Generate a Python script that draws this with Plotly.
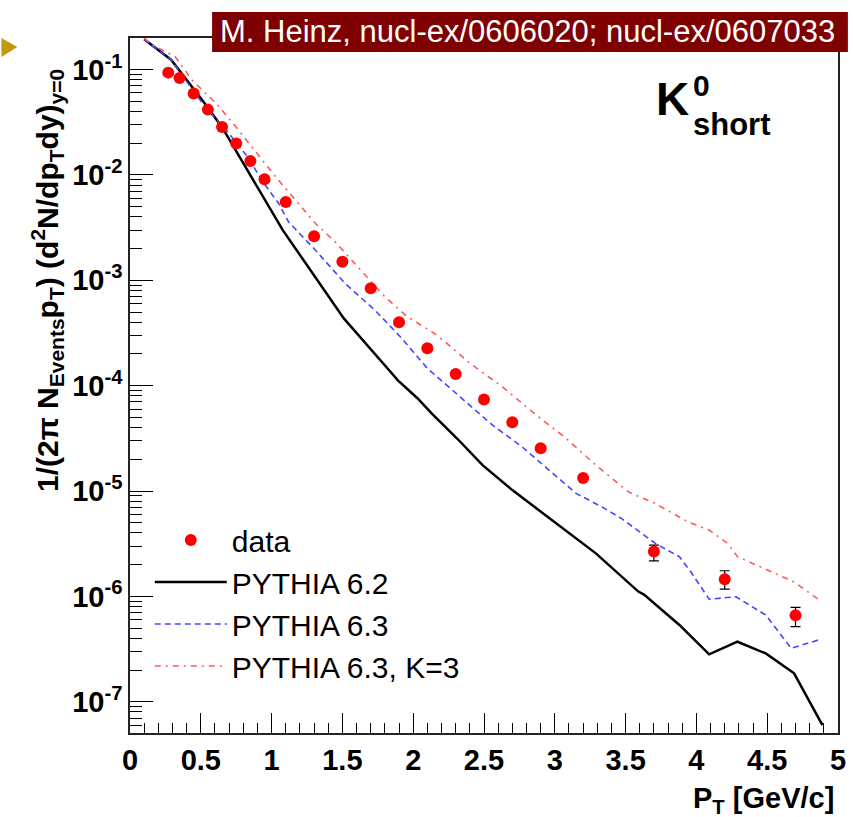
import plotly.graph_objects as go

# Measured K0_short spectrum
data_pt = [0.27, 0.35, 0.45, 0.55, 0.65, 0.75, 0.85, 0.95, 1.1, 1.3, 1.5,
           1.7, 1.9, 2.1, 2.3, 2.5, 2.7, 2.9, 3.2, 3.7, 4.2, 4.7]
data_y = [0.0936, 0.0832, 0.0592, 0.0417, 0.0285, 0.0199, 0.0136, 0.0091,
          0.00554, 0.00262, 0.00150, 8.4e-4, 4.0e-4, 2.26e-4, 1.29e-4,
          7.4e-5, 4.5e-5, 2.54e-5, 1.33e-5, 2.66e-6, 1.45e-6, 6.6e-7]
data_err_plus = [0] * 19 + [0.40e-6, 0.30e-6, 0.127e-6]
data_err_minus = [0] * 19 + [0.49e-6, 0.28e-6, 0.145e-6]

# PYTHIA 6.2
p62_pt = [0.10, 0.29, 0.52, 0.65, 1.08, 1.29, 1.51, 1.83, 1.89, 2.03, 2.13,
          2.31, 2.49, 2.70, 2.98, 3.29, 3.59, 3.63, 3.88, 4.09, 4.29, 4.49,
          4.69, 4.89]
p62_y = [0.194, 0.124, 0.0493, 0.0284, 2.98e-3, 1.16e-3, 4.35e-4, 1.40e-4,
         1.13e-4, 7.6e-5, 5.45e-5, 3.15e-5, 1.76e-5, 1.02e-5, 5.3e-6, 2.56e-6,
         1.11e-6, 1.04e-6, 5.35e-7, 2.82e-7, 3.71e-7, 2.87e-7, 1.86e-7, 6.0e-8]

# PYTHIA 6.3
p63_pt = [0.10, 0.29, 0.47, 0.55, 0.68, 0.84, 0.93, 1.05, 1.12, 1.31, 1.52,
          1.73, 1.91, 2.10, 2.17, 2.36, 2.56, 2.77, 2.96, 3.15, 3.33, 3.47,
          3.71, 3.88, 3.96, 4.09, 4.28, 4.49, 4.67, 4.86]
p63_y = [0.194, 0.1245, 0.0570, 0.0411, 0.02655, 0.01432, 8.9e-3, 5.36e-3,
         3.58e-3, 1.93e-3, 9.3e-4, 5.2e-4, 2.9e-4, 1.46e-4, 1.21e-4, 7.3e-5,
         4.22e-5, 2.62e-5, 1.58e-5, 9.5e-6, 7.1e-6, 5.5e-6, 3.18e-6, 2.38e-6,
         1.71e-6, 9.4e-7, 9.9e-7, 6.65e-7, 3.21e-7, 3.85e-7]

# PYTHIA 6.3 with K=3
p63k_pt = [0.10, 0.15, 0.32, 0.44, 0.61, 0.75, 0.86, 1.03, 1.17, 1.31, 1.45,
           1.66, 1.80, 1.96, 2.15, 2.24, 2.40, 2.63, 2.87, 3.08, 3.29, 3.52,
           3.71, 3.94, 4.09, 4.22, 4.29, 4.45, 4.69, 4.86]
p63k_y = [0.200, 0.174, 0.132, 0.0791, 0.0475, 0.0285, 0.01845, 9.57e-3,
          5.75e-3, 3.46e-3, 2.31e-3, 1.117e-3, 6.97e-4, 4.5e-4, 3.13e-4,
          2.51e-4, 1.63e-4, 9.75e-5, 5.25e-5, 3.16e-5, 1.76e-5, 9.8e-6, 7.6e-6,
          5.1e-6, 4.26e-6, 3.18e-6, 2.38e-6, 1.91e-6, 1.37e-6, 9.4e-7]

x_ticks = [0, 0.5, 1, 1.5, 2, 2.5, 3, 3.5, 4, 4.5, 5]
x_ticktext = ["0", "0.5", "1", "1.5", "2", "2.5", "3", "3.5", "4", "4.5", "5"]
y_exponents = [-7, -6, -5, -4, -3, -2, -1]

y_ticks = [10.0 ** e for e in y_exponents]
y_ticktext = ["10<sup>%d</sup>" % e for e in y_exponents]
y_minor = [m * 10.0 ** e for e in range(-8, 0) for m in range(2, 10)]

W, H = 853, 817
L, R, T, B = 130, 7, 38, 84
pw, ph = W - L - R, H - T - B


def px(xp):
    return (xp - L) / pw


def py(yp):
    return (H - B - yp) / ph


FONT = "Liberation Sans"

fig = go.Figure()

fig.add_trace(go.Scatter(
    x=p62_pt, y=p62_y, mode="lines", name="PYTHIA 6.2",
    line=dict(color="black", width=2.5), legendrank=2, legendgroup="b"))
fig.add_trace(go.Scatter(
    x=p63_pt, y=p63_y, mode="lines", name="PYTHIA 6.3",
    line=dict(color="rgb(70,70,255)", width=1.6, dash="6px,4px"),
    legendrank=3, legendgroup="c"))
fig.add_trace(go.Scatter(
    x=p63k_pt, y=p63k_y, mode="lines", name="PYTHIA 6.3, K=3",
    line=dict(color="rgb(255,90,90)", width=1.6, dash="6px,5px,2px,5px"),
    legendrank=4, legendgroup="d"))
fig.add_trace(go.Scatter(
    x=data_pt, y=data_y, mode="markers", name="data",
    marker=dict(color="red", size=12, symbol="circle"),
    error_y=dict(type="data", array=data_err_plus, arrayminus=data_err_minus,
                 color="black", thickness=1.2, width=5),
    legendrank=1, legendgroup="a"))

fig.update_layout(
    width=W, height=H, autosize=False,
    margin=dict(l=L, r=R, t=T, b=B),
    paper_bgcolor="white", plot_bgcolor="white",
    font=dict(family=FONT, color="black"),
    showlegend=True,
    legend=dict(x=px(150), y=py(514), xanchor="left", yanchor="top",
                bgcolor="rgba(0,0,0,0)", font=dict(size=30, family=FONT),
                itemwidth=72, traceorder="grouped", tracegroupgap=0),
    xaxis=dict(
        range=[0, 5], showgrid=False, zeroline=False,
        showline=True, linecolor="#222", linewidth=1.5, mirror=True,
        ticks="inside", ticklen=20, tickcolor="black", tickwidth=1,
        tickmode="array", tickvals=x_ticks, ticktext=x_ticktext,
        tickfont=dict(size=29, family=FONT, weight="bold"),
        minor=dict(ticks="inside", ticklen=10, dtick=0.1, tick0=0,
                   tickcolor="black", tickwidth=1),
    ),
    yaxis=dict(
        type="log", range=[-7.297, -0.70], showgrid=False, zeroline=False,
        showline=True, linecolor="#222", linewidth=1.5, mirror=True,
        ticks="inside", ticklen=23, tickcolor="black", tickwidth=1,
        tickmode="array", tickvals=y_ticks, ticktext=y_ticktext,
        tickfont=dict(size=29, family=FONT, weight="bold"),
        minor=dict(ticks="inside", ticklen=12, tickmode="array",
                   tickvals=y_minor, tickcolor="black", tickwidth=1),
    ),
)

# Axis titles
fig.add_annotation(
    xref="paper", yref="paper", x=px(46), y=py(280),
    xanchor="center", yanchor="middle", textangle=-90, showarrow=False,
    text="1/(2\u03c0 N<sub>Events</sub>p<sub>T</sub>) "
         "(d<sup>2</sup>N/dp<sub>T</sub>dy)<sub>y=0</sub>",
    font=dict(size=30, family=FONT, weight="bold"))
fig.add_annotation(
    xref="paper", yref="paper", x=px(844), y=py(800),
    xanchor="right", yanchor="middle", showarrow=False,
    text="P<sub>T</sub> [GeV/c]",
    font=dict(size=29, family=FONT, weight="bold"))

# Particle label
fig.add_annotation(
    xref="paper", yref="paper", x=px(660), y=py(127),
    xanchor="left", yanchor="bottom", showarrow=False, text="K",
    font=dict(size=46, family=FONT, weight="bold"))
fig.add_annotation(
    xref="paper", yref="paper", x=px(697), y=py(104),
    xanchor="left", yanchor="bottom", showarrow=False, text="0",
    font=dict(size=30, family=FONT, weight="bold"))
fig.add_annotation(
    xref="paper", yref="paper", x=px(697), y=py(105),
    xanchor="left", yanchor="top", showarrow=False, text="short",
    font=dict(size=31, family=FONT, weight="bold"))

# Reference banner
fig.add_shape(type="rect", xref="paper", yref="paper",
              x0=px(213), x1=px(856), y0=py(52), y1=py(12),
              fillcolor="#7f0000", line=dict(width=0), layer="above")
fig.add_annotation(
    xref="paper", yref="paper", x=px(532), y=py(32),
    xanchor="center", yanchor="middle", showarrow=False,
    text="M. Heinz, nucl-ex/0606020; nucl-ex/0607033",
    font=dict(size=31, family=FONT, color="white"))

# Slide bullet marker
fig.add_shape(type="path", xref="paper", yref="paper",
              path="M %f,%f L %f,%f L %f,%f Z" % (px(0), py(38), px(16), py(47),
                                                  px(0), py(57)),
              fillcolor="#c8960c", line=dict(width=0))

fig.write_html("out.html")
